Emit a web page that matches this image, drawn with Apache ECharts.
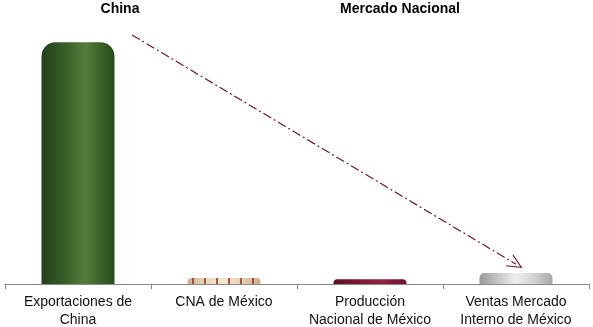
<!DOCTYPE html>
<html>
<head>
<meta charset="utf-8">
<script src="https://cdn.jsdelivr.net/npm/echarts@6/dist/echarts.min.js"></script>
<style>
  html, body { margin: 0; padding: 0; background: #fff; }
  #chart { width: 593px; height: 327px; }
</style>
</head>
<body>
<div id="chart"></div>
<script>
// Categories along the x axis
const categories = [
  'Exportaciones de\nChina',
  'CNA de México',
  'Producción\nNacional de México',
  'Ventas Mercado\nInterno de México'
];
// Relative volumes (Exportaciones de China = 100)
const values = [100, 2.5, 2, 4.5];
// Group headings above the bars
const groupTitles = ['China', 'Mercado Nacional'];
// Trend arrow endpoints [position along categories, value]
const arrowFrom = [0.37, 103];
const arrowTo = [3.0, 8.2];

function hGrad(stops) {
  return new echarts.graphic.LinearGradient(0, 0, 1, 0,
    stops.map((c, i) => ({ offset: i / (stops.length - 1), color: c })));
}

const barStyles = [
  { color: hGrad(['#24401a', '#2f5222', '#3f672c', '#547d3c', '#3d6229', '#2a4a1d']), borderRadius: [14, 14, 0, 0] },
  { color: hGrad(['#c9b08a', '#e9d8b8', '#f3e7cf', '#e6d3b0', '#c8ad85']), borderRadius: [4, 4, 0, 0],
    decal: { symbol: 'rect', symbolSize: 1, dashArrayX: [1.5, 9.5], dashArrayY: [10, 0], color: 'rgba(150,35,45,0.75)' } },
  { color: hGrad(['#5e0f24', '#7c1a35', '#8e2541', '#6d1430']), borderRadius: [4, 4, 0, 0] },
  { color: hGrad(['#9a9a9a', '#c6c6c6', '#eeeeee', '#d2d2d2', '#a8a8a8']), borderRadius: [5, 5, 0, 0] }
];

const labelFont = 'Liberation Sans, Arial';

const chart = echarts.init(document.getElementById('chart'), null, { renderer: 'canvas' });
chart.setOption({
  animation: false,
  title: [
    { text: groupTitles[0], left: 115, top: -3, textAlign: 'center',
      textStyle: { fontFamily: labelFont, fontSize: 14, fontWeight: 'bold', color: '#000' } },
    { text: groupTitles[1], left: 395, top: -3, textAlign: 'center',
      textStyle: { fontFamily: labelFont, fontSize: 14, fontWeight: 'bold', color: '#000' } }
  ],
  // value axis runs to 110 so the arrow start above the tallest bar stays in range
  grid: { left: 5, right: 4, top: 18, bottom: 43, containLabel: false, outerBoundsMode: 'none' },
  xAxis: [
    {
      type: 'category',
      data: categories,
      axisLine: { lineStyle: { color: '#888', width: 1 } },
      axisTick: { show: true, length: 5, lineStyle: { color: '#888' } },
      axisLabel: { color: '#111', fontFamily: labelFont, fontSize: 14, lineHeight: 18, margin: 9, interval: 0 }
    },
    // continuous companion axis spanning the same categories, used by the arrow
    { type: 'value', min: -0.5, max: 3.5, show: false, splitLine: { show: false } }
  ],
  yAxis: { type: 'value', min: 0, max: 110, show: false, splitLine: { show: false } },
  series: [
    {
      type: 'bar',
      barWidth: '50%',
      data: values.map((v, i) => ({ value: v, itemStyle: barStyles[i] }))
    },
    {
      type: 'line',
      xAxisIndex: 1,
      data: [],
      silent: true,
      markLine: {
        silent: true,
        // open chevron head, tip pointing along the line
        symbol: ['none', 'path://M0,0 L7,14 L5.8,14 L0,2.4 L-5.8,14 L-7,14 Z'],
        symbolSize: [14, 15],
        label: { show: false },
        lineStyle: { color: '#6e1533', width: 1.2, type: [9, 3, 2, 3] },
        data: [[{ coord: arrowFrom }, { coord: arrowTo }]]
      }
    }
  ]
});
</script>
</body>
</html>
